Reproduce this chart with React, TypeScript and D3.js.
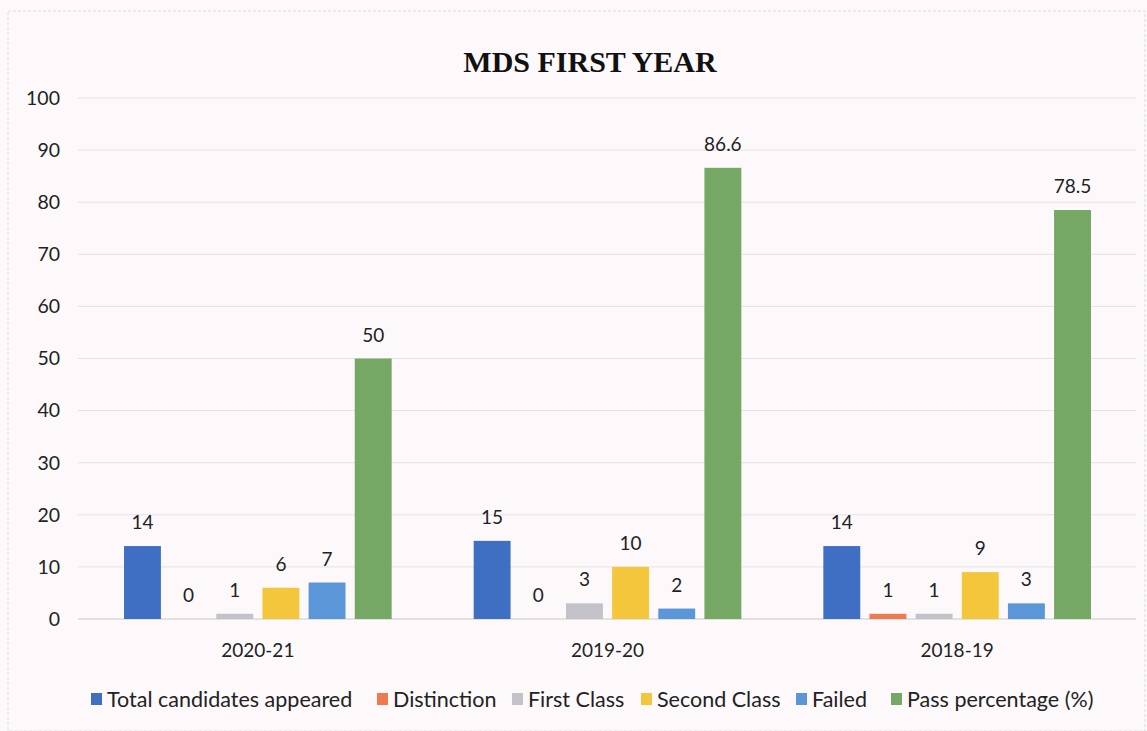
import React, { useRef, useEffect } from 'react';
import * as d3 from 'd3';

const years = ['2020-21', '2019-20', '2018-19'];
const seriesNames = ['Total candidates appeared', 'Distinction', 'First Class', 'Second Class', 'Failed', 'Pass percentage (%)'];
const seriesColors = ['#3f6fc2', '#ee7a50', '#c2c2c8', '#f4c63c', '#5b96d8', '#76a865'];
const totalAppeared = [14, 15, 14];
const distinction = [0, 0, 1];
const firstClass = [1, 3, 1];
const secondClass = [6, 10, 9];
const failed = [7, 2, 3];
const passPercent = [50, 86.6, 78.5];
const yTicks = [0, 10, 20, 30, 40, 50, 60, 70, 80, 90, 100];

const allSeries = [totalAppeared, distinction, firstClass, secondClass, failed, passPercent];

const App = () => {
    const svgRef = useRef<SVGSVGElement>(null);

    const W = 1147;
    const H = 731;
    const margin = { top: 98, left: 83 };
    const width = 1049;
    const height = 619 - margin.top;

    useEffect(() => {
        const svg = d3.select(svgRef.current);
        svg.selectAll('*').remove();
        const font = 'Lato, "Open Sans", sans-serif';

        svg.append('rect').attr('width', W).attr('height', H).attr('fill', '#fdf9fb');
        svg.append('rect')
            .attr('x', 8).attr('y', 11).attr('width', W - 10).attr('height', H - 11)
            .attr('fill', 'none').attr('stroke', '#dcdcdc').attr('stroke-dasharray', '3,2');

        svg.append('text')
            .attr('x', 590).attr('y', 72)
            .attr('text-anchor', 'middle')
            .attr('font-family', '"Liberation Serif", "Times New Roman", serif')
            .attr('font-weight', 'bold')
            .attr('font-size', 30)
            .attr('fill', '#111')
            .text('MDS FIRST YEAR');

        const x0 = d3.scaleBand().domain(years).range([0, width]).paddingInner(0).paddingOuter(0);
        const x1 = d3.scaleBand().domain(seriesNames).range([41, x0.bandwidth() - 41]).paddingInner(0.2);
        const y = d3.scaleLinear().domain([0, 100]).range([height, 0]);

        const chart = svg.append('g').attr('transform', `translate(${margin.left}, ${margin.top})`);

        // gridlines
        chart.selectAll('.grid')
            .data(yTicks)
            .enter()
            .append('line')
            .attr('x1', -5).attr('x2', width + 4)
            .attr('y1', (d) => y(d)).attr('y2', (d) => y(d))
            .attr('stroke', (d) => (d === 0 ? '#c8c8c8' : '#e4e2e4'))
            .attr('stroke-width', 1);

        // y labels
        chart.selectAll('.ylab')
            .data(yTicks)
            .enter()
            .append('text')
            .attr('x', -23)
            .attr('y', (d) => y(d))
            .attr('dy', '0.35em')
            .attr('text-anchor', 'end')
            .attr('font-family', font)
            .attr('font-size', 19.5)
            .attr('fill', '#222')
            .text((d) => d);

        const groups = chart.selectAll('.grp')
            .data(years)
            .enter()
            .append('g')
            .attr('transform', (d) => `translate(${x0(d)}, 0)`);

        groups.each(function (yr, i) {
            const g = d3.select(this);
            seriesNames.forEach((s, j) => {
                const v = allSeries[j][i];
                const bx = x1(s) as number;
                if (v > 0) {
                    g.append('rect')
                        .attr('x', bx)
                        .attr('y', y(v))
                        .attr('width', x1.bandwidth())
                        .attr('height', height - y(v))
                        .attr('fill', seriesColors[j]);
                }
                g.append('text')
                    .attr('x', bx + x1.bandwidth() / 2)
                    .attr('y', y(v) - 17)
                    .attr('text-anchor', 'middle')
                    .attr('font-family', font)
                    .attr('font-size', 19)
                    .attr('fill', '#222')
                    .text(v);
            });
        });

        // x labels
        chart.selectAll('.xlab')
            .data(years)
            .enter()
            .append('text')
            .attr('x', (d) => (x0(d) as number) + x0.bandwidth() / 2)
            .attr('y', height + 38)
            .attr('text-anchor', 'middle')
            .attr('font-family', font)
            .attr('font-size', 19)
            .attr('fill', '#222')
            .text((d) => d);

        // legend
        const legendX = [91, 377, 512, 641, 796, 891];
        const legend = svg.append('g').attr('transform', 'translate(0, 699)');
        seriesNames.forEach((s, j) => {
            legend.append('rect')
                .attr('x', legendX[j]).attr('y', -6)
                .attr('width', 11).attr('height', 12)
                .attr('fill', seriesColors[j]);
            legend.append('text')
                .attr('x', legendX[j] + 16)
                .attr('y', 0)
                .attr('dy', '0.35em')
                .attr('font-family', font)
                .attr('font-size', 21.5)
                .attr('fill', '#222')
                .text(s);
        });
    }, []);

    return (
        <div style={{ position: 'absolute', left: 0, top: 0 }}>
            <svg ref={svgRef} width={W} height={H} style={{ display: 'block' }}></svg>
        </div>
    );
};
export default App;
